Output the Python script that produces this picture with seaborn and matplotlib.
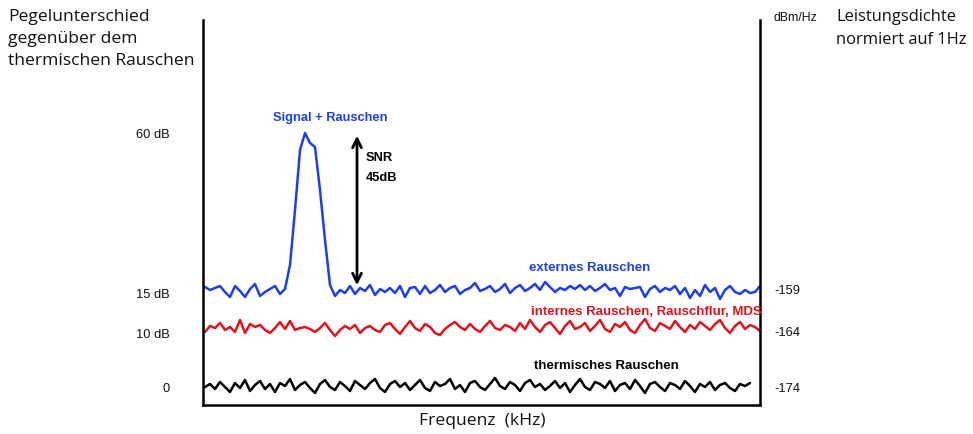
import numpy as np
import pandas as pd
import matplotlib
matplotlib.use("Agg")
import matplotlib.pyplot as plt
import seaborn as sns

sns.set_style("white")
plt.rcParams['font.family'] = ['Liberation Sans', 'DejaVu Sans']

# schematic level units (height above the bottom of the plot)
blue_levels = [118,115,117,119,113,108,119,114,108,116,121,109,113,116,119,111,116,
               140,195,255,272,262,258,215,165,120,109,
               115,112,119,111,117,114,120,110,116,113,117,112,119,108,117,118,111,119,112,115,
               120,113,117,119,111,115,117,122,114,116,119,113,116,121,112,117,120,114,117,121,
               115,123,118,113,117,115,119,116,120,115,119,114,117,121,115,117,109,118,116,117,
               118,108,116,119,113,117,115,119,111,117,107,115,109,120,113,117,106,115,119,113,
               111,115,112,113,119]
red_levels = [73,79,77,82,75,78,73,85,72,81,78,80,75,72,77,83,76,84,75,77,78,76,73,77,82,75,
              69,75,79,76,80,72,77,79,75,73,80,82,76,71,78,84,77,74,81,78,72,70,76,80,83,78,
              75,81,76,73,79,84,77,75,80,78,74,82,76,85,78,73,80,83,77,71,79,84,76,78,82,74,
              79,85,76,73,81,78,83,75,72,80,86,77,74,82,79,76,84,78,73,80,76,83,79,75,81,85,
              77,72,79,83,76,80,78,74]
black_levels = [18,21,16,23,18,13,22,17,25,14,20,24,16,21,13,22,19,26,15,20,23,17,12,21,25,18,
                15,23,19,14,24,20,16,22,26,17,13,21,24,18,22,15,20,25,17,14,23,19,21,26,16,20,
                13,22,24,18,15,21,27,19,16,23,20,14,22,25,18,21,15,19,24,17,22,13,20,26,18,15,
                23,21,17,24,14,20,22,16,25,19,12,21,23,18,14,22,20,16,24,19,13,21,18,23,15,20,
                22,17,14,21,19,22]

left_tick_pos = [271, 111, 71, 18]
left_tick_labels = ["60 dB", "15 dB", "10 dB", "0"]
right_tick_pos = [116, 73, 18]
right_tick_labels = ["-159", "-164", "-174"]

step = 5.0
BLUE = "#1f3fe6"
RED = "#e0141c"

fig = plt.figure(figsize=(9.73, 4.34), dpi=100)
ax = fig.add_axes([203/973, 1-405/434, (760-203)/973, (405-20)/434])

for levels, col in [(blue_levels, BLUE), (red_levels, RED), (black_levels, "black")]:
    xs = 2 + np.arange(len(levels)) * step
    sns.lineplot(x=xs, y=levels, ax=ax, color=col, lw=1.8)

ax.set_xlim(0, 557)
ax.set_ylim(0, 385)
ax.set_xticks([])
ax.set_yticks(left_tick_pos)
ax.set_yticklabels(left_tick_labels, fontsize=9.3, color="#111111")
ax.tick_params(axis='y', length=0, pad=24)
for s in ['left', 'right', 'bottom']:
    ax.spines[s].set_visible(True)
    ax.spines[s].set_color('black')
    ax.spines[s].set_linewidth(1.8)
ax.spines['top'].set_visible(False)
ax.set_xlabel("")
ax.set_ylabel("")

ax2 = ax.twinx()
ax2.set_ylim(0, 385)
ax2.set_yticks(right_tick_pos)
ax2.set_yticklabels(right_tick_labels, fontsize=9.3, color="#111111")
ax2.tick_params(axis='y', length=0, pad=10)
for s in ['left', 'top', 'bottom', 'right']:
    ax2.spines[s].set_visible(False)

# arrow SNR
ax.annotate("", xy=(154, 272), xytext=(154, 117),
            arrowprops=dict(arrowstyle='<->', lw=2, color='black', mutation_scale=16))

ax.text(127, 287, "Signal + Rauschen", color=BLUE, fontsize=9.3, fontweight='bold',
        ha='center', va='center')
ax.text(163, 247, "SNR", color='black', fontsize=9.3, fontweight='bold', ha='left', va='center')
ax.text(163, 227, "45dB", color='black', fontsize=9.3, fontweight='bold', ha='left', va='center')
ax.text(387, 137, "externes Rauschen", color=BLUE, fontsize=9.5, fontweight='bold',
        ha='center', va='center')
ax.text(443, 93, "internes Rauschen, Rauschflur, MDS", color=RED, fontsize=9.5,
        fontweight='bold', ha='center', va='center')
ax.text(403, 39, "thermisches Rauschen", color='black', fontsize=9.5, fontweight='bold',
        ha='center', va='center')

fig.text(8/973, 1-9/434, "Pegelunterschied\ngegenüber dem\nthermischen Rauschen",
         fontsize=12.6, family=['Open Sans', 'DejaVu Sans'], ha='left', va='top',
         linespacing=1.5, color='#111111')
fig.text(836/973, 1-9/434, "Leistungsdichte\nnormiert auf 1Hz",
         fontsize=11.9, family=['Open Sans', 'DejaVu Sans'], ha='left', va='top',
         linespacing=1.55, color='#111111')
fig.text(773/973, 1-18/434, "dBm/Hz", fontsize=8.8, ha='left', va='center', color='#111111')
fig.text(482/973, 1-421/434, "Frequenz  (kHz)", fontsize=12.6,
         family=['Open Sans', 'DejaVu Sans'], ha='center', va='center', color='#111111')

fig.savefig("out.png", dpi=100)
